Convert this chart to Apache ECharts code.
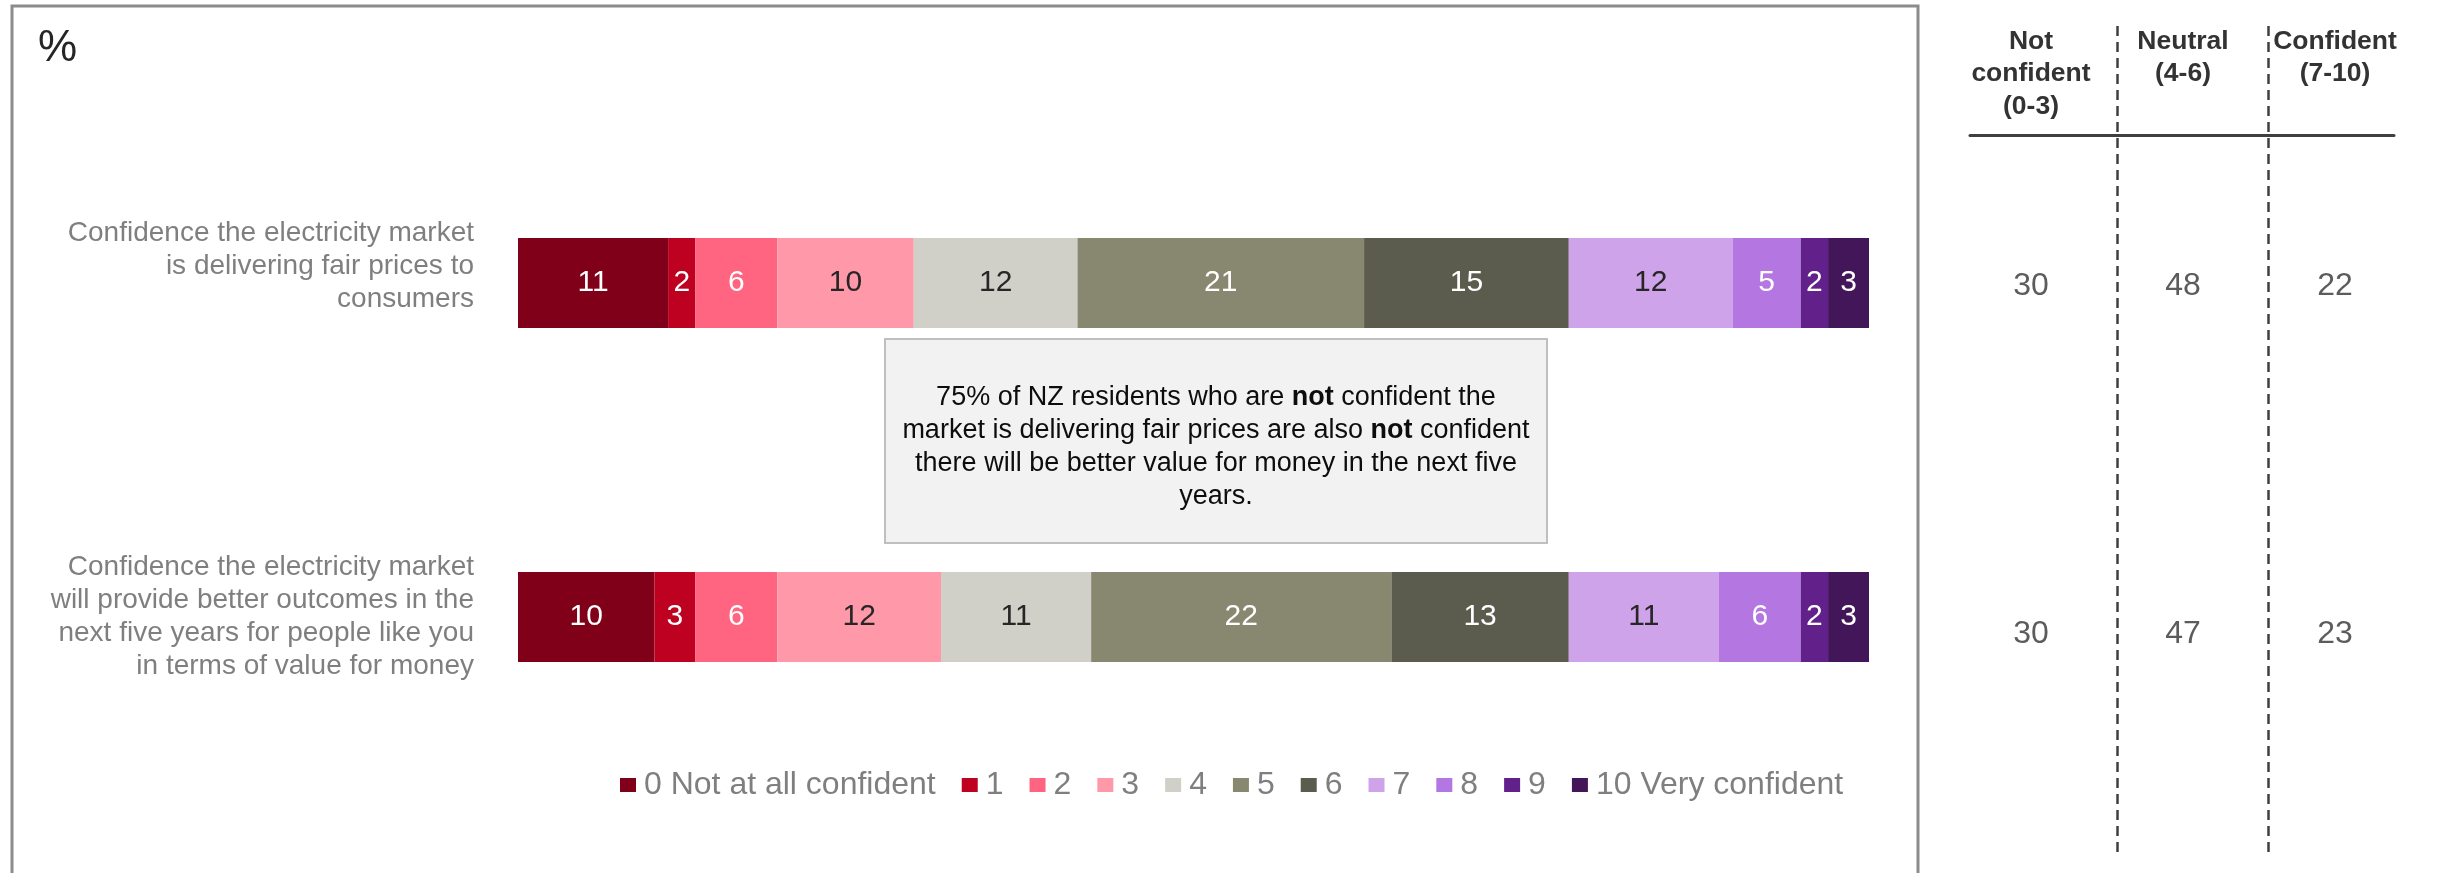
<!DOCTYPE html>
<html>
<head>
<meta charset="utf-8">
<script src="https://cdn.jsdelivr.net/npm/echarts@6/dist/echarts.min.js"></script>
<style>
html, body { margin: 0; padding: 0; background: #fff; }
#chart { width: 2438px; height: 873px; }
</style>
</head>
<body>
<div id="chart"></div>
<script>
// survey questions (rows)
const questions = [
    'Confidence the electricity market\nis delivering fair prices to\nconsumers',
    'Confidence the electricity market\nwill provide better outcomes in the\nnext five years for people like you\nin terms of value for money',
]
// scale points 0..10
const scaleNames = ['0 Not at all confident', '1', '2', '3', '4', '5', '6', '7', '8', '9', '10 Very confident']
const scaleColors = ['#7f0018', '#be0021', '#ff6480', '#ff98a8', '#d0d0c8', '#888870', '#5b5c4d', '#cfa3ea', '#b476e0', '#62208a', '#43165a']
// % per scale point, one array per question
const fairPrices = [11, 2, 6, 10, 12, 21, 15, 12, 5, 2, 3]
const valueForMoney = [10, 3, 6, 12, 11, 22, 13, 11, 6, 2, 3]

// summary table
const summaryHeaders = ['Not\nconfident\n(0-3)', 'Neutral\n(4-6)', 'Confident\n(7-10)']
const notConfident = [30, 30]
const neutral = [48, 47]
const confident = [22, 23]

const FONT = '"Liberation Sans", Arial, sans-serif'
const darkLabels = [3, 4, 7]

const chart = echarts.init(document.getElementById('chart'))

const rowsData = [fairPrices, valueForMoney]
const total = Math.max(...rowsData.map(r => r.reduce((a, b) => a + b, 0)))

const barSeries = scaleNames.map((name, i) => ({
    name: name,
    type: 'bar',
    stack: 'all',
    xAxisIndex: 0,
    yAxisIndex: 0,
    barWidth: 90,
    itemStyle: { color: scaleColors[i] },
    label: {
        show: true,
        position: 'inside',
        fontFamily: FONT,
        fontSize: 30,
        color: darkLabels.includes(i) ? '#262626' : '#ffffff',
    },
    data: rowsData.map(r => r[i]),
}))

const summaryCols = [notConfident, neutral, confident]
const summaryData = []
summaryCols.forEach((col, c) => {
    col.forEach((v, r) => summaryData.push([c, r, v]))
})

const option = {
    animation: false,
    backgroundColor: '#ffffff',
    textStyle: { fontFamily: FONT },
    title: {
        text: '%',
        left: 33,
        top: 22,
        textStyle: { fontFamily: FONT, fontSize: 44, fontWeight: 'normal', color: '#262626' },
    },
    legend: {
        left: 615,
        top: 764,
        icon: 'rect',
        itemWidth: 16,
        itemHeight: 14,
        itemGap: 26,
        textStyle: { fontFamily: FONT, fontSize: 32, color: '#7f7f7f', padding: [0, 0, 0, 3] },
        data: scaleNames,
    },
    grid: [
        // main bars
        { left: 518, right: 569, top: 116, bottom: 89 },
        // summary values + headers
        { left: 1955, right: 27, top: 112, bottom: 65 },
        // header rule
        { left: 1970, right: 44, top: 134, height: 1 },
        // dashed separators
        { left: 1966, right: 18, top: 26, bottom: 21 },
    ],
    xAxis: [
        { gridIndex: 0, type: 'value', min: 0, max: total, show: false },
        {
            gridIndex: 1, type: 'category', position: 'top', data: summaryHeaders,
            axisLine: { show: false }, axisTick: { show: false },
            axisLabel: {
                interval: 0, margin: 87, verticalAlign: 'top', fontFamily: FONT, fontSize: 26.5,
                fontWeight: 'bold', lineHeight: 32.5, color: '#333333',
            },
        },
        {
            gridIndex: 2, type: 'category', position: 'top', data: summaryHeaders,
            axisLine: { show: true, lineStyle: { color: '#404040', width: 3 } },
            axisTick: { show: false }, axisLabel: { show: false },
        },
        {
            gridIndex: 3, type: 'category', data: summaryHeaders,
            axisLine: { show: false }, axisTick: { show: false }, axisLabel: { show: false },
            splitLine: {
                show: true, interval: 0, showMinLine: false, showMaxLine: false,
                lineStyle: { color: '#404040', width: 2.5, type: [10, 6] },
            },
        },
    ],
    yAxis: [
        {
            gridIndex: 0, type: 'category', inverse: true, data: questions,
            axisLine: { show: false }, axisTick: { show: false },
            axisLabel: {
                interval: 0, margin: 44, fontFamily: FONT, fontSize: 28, lineHeight: 33,
                color: '#7f7f7f', align: 'right',
                // first label sits a little above its bar
                formatter: (v, i) => (i === 0 ? v + '\n ' : v),
            },
        },
        { gridIndex: 1, type: 'category', inverse: true, data: questions, show: false },
        { gridIndex: 2, type: 'value', show: false },
        { gridIndex: 3, type: 'value', show: false },
    ],
    graphic: [
        {
            type: 'rect', silent: true, z: -1,
            shape: { x: 12, y: 6, width: 1906, height: 900 },
            style: { fill: 'none', stroke: '#8c8c8c', lineWidth: 3 },
        },
        {
            type: 'rect', silent: true,
            shape: { x: 885, y: 339, width: 662, height: 204 },
            style: { fill: '#f2f2f2', stroke: '#bfbfbf', lineWidth: 2 },
        },
        {
            type: 'text', silent: true, x: 1216, y: 447,
            style: {
                text: '75% of NZ residents who are {b|not} confident the\nmarket is delivering fair prices are also {b|not} confident\nthere will be better value for money in the next five\nyears.',
                align: 'center', verticalAlign: 'middle',
                font: '27px ' + FONT, fontSize: 27, fontFamily: FONT, lineHeight: 33, fill: '#0d0d0d',
                rich: {
                    b: { fontSize: 27, fontFamily: FONT, fontWeight: 'bold', lineHeight: 33, fill: '#0d0d0d', color: '#0d0d0d' },
                },
            },
        },
    ],
    series: barSeries.concat([
        {
            type: 'scatter',
            xAxisIndex: 1,
            yAxisIndex: 1,
            symbolSize: 0,
            silent: true,
            label: {
                show: true, position: 'inside', fontFamily: FONT, fontSize: 32, color: '#333333',
                formatter: p => p.value[2],
            },
            data: summaryData,
        },
    ]),
}

chart.setOption(option)
</script>
</body>
</html>
